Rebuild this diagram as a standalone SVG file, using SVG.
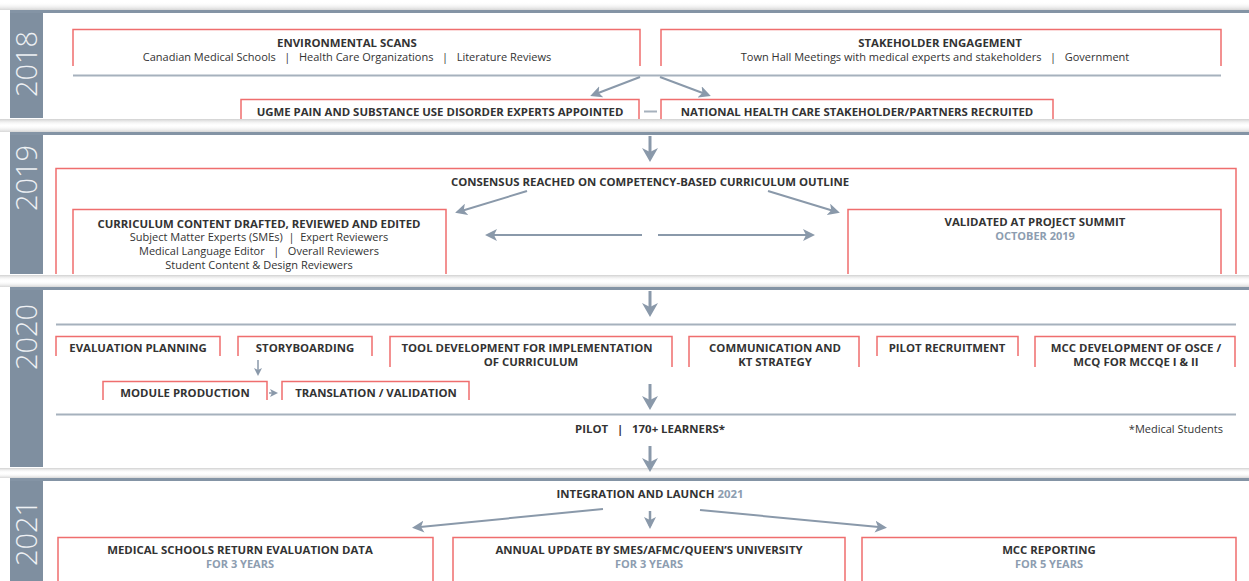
<svg xmlns="http://www.w3.org/2000/svg" width="1249" height="581" viewBox="0 0 1249 581">
<style>
.t{font-family:"Open Sans","Liberation Sans",sans-serif;fill:#333;font-size:11px;text-anchor:middle}
.b{font-weight:700;font-size:11.4px}
.s{fill:#8d9db0;font-weight:700}
.br{fill:none;stroke:#ef6e6e;stroke-width:1.5}
.gl{stroke:#a6b1bd;stroke-width:2}
.band{stroke:#8494a5;stroke-width:3}
.bar{fill:#7f8fa0}
.yr{font-family:"Open Sans","Liberation Sans",sans-serif;font-weight:300;font-size:29px;fill:#eef1f4;text-anchor:middle}
.ar{stroke:#8a99aa;fill:none}
</style>
<defs>
<marker id="ahL" markerUnits="userSpaceOnUse" viewBox="0 0 14 16" refX="10" refY="8" markerWidth="14" markerHeight="16" orient="auto"><path d="M0,0 L14,8 L0,16 L4,8 z" fill="#8a99aa"/></marker>
<marker id="ahM" markerUnits="userSpaceOnUse" viewBox="0 0 12 12" refX="9" refY="6" markerWidth="12" markerHeight="12" orient="auto"><path d="M0,0 L12,6 L0,12 L3,6 z" fill="#8a99aa"/></marker>
<marker id="ahS" markerUnits="userSpaceOnUse" viewBox="0 0 8 8" refX="6" refY="4" markerWidth="8" markerHeight="8" orient="auto"><path d="M0,0 L8,4 L0,8 L2,4 z" fill="#8a99aa"/></marker>
<linearGradient id="shD" x1="0" y1="0" x2="0" y2="1"><stop offset="0" stop-color="#d0d0d0"/><stop offset="1" stop-color="#ffffff" stop-opacity="0"/></linearGradient>
<linearGradient id="shU" x1="0" y1="0" x2="0" y2="1"><stop offset="0" stop-color="#ffffff" stop-opacity="0"/><stop offset="1" stop-color="#d6d6d6"/></linearGradient>
</defs>
<rect width="1249" height="581" fill="#ffffff"/>
<g id="shadows">
<rect x="0" y="2" width="1249" height="8" fill="url(#shU)"/>
<rect x="0" y="119" width="1249" height="7" fill="url(#shD)"/>
<rect x="0" y="125" width="1249" height="7" fill="url(#shU)"/>
<rect x="0" y="275" width="1249" height="6" fill="url(#shD)"/>
<rect x="0" y="281" width="1249" height="6" fill="url(#shU)"/>
<rect x="0" y="468" width="1249" height="5" fill="url(#shD)"/>
<rect x="0" y="473" width="1249" height="5" fill="url(#shU)"/>
</g>
<g id="years">
<g id="y2018"><rect class="bar" x="10" y="11" width="33" height="107"/><line class="band" x1="10" y1="11.5" x2="1249" y2="11.5"/><text class="yr" transform="translate(37,64) rotate(-90)">2018</text></g>
<g id="y2019"><rect class="bar" x="10" y="133" width="33" height="141"/><line class="band" x1="10" y1="133.5" x2="1249" y2="133.5"/><text class="yr" transform="translate(37,178) rotate(-90)">2019</text></g>
<g id="y2020"><rect class="bar" x="10" y="288" width="33" height="179"/><line class="band" x1="10" y1="288.5" x2="1249" y2="288.5"/><text class="yr" transform="translate(37,337) rotate(-90)">2020</text></g>
<g id="y2021"><rect class="bar" x="10" y="479" width="33" height="102"/><line class="band" x1="10" y1="479.5" x2="1249" y2="479.5"/><text class="yr" transform="translate(37,533) rotate(-90)">2021</text></g>
</g>
<g id="connectors">
<line class="gl" x1="73" y1="75.5" x2="1221" y2="75.5"/>
<line class="gl" x1="644" y1="111.5" x2="657" y2="111.5"/>
<line class="gl" x1="56" y1="324.5" x2="1236" y2="324.5"/>
<line class="gl" x1="56" y1="414.5" x2="1236" y2="414.5"/>
<line class="ar" stroke-width="2" x1="640" y1="77" x2="593" y2="95" marker-end="url(#ahM)"/>
<line class="ar" stroke-width="2" x1="660" y1="77" x2="708" y2="95" marker-end="url(#ahM)"/>
<line class="ar" stroke-width="3" x1="650" y1="136" x2="650" y2="158" marker-end="url(#ahL)"/>
<line class="ar" stroke-width="2" x1="527" y1="191" x2="458" y2="212" marker-end="url(#ahM)"/>
<line class="ar" stroke-width="2" x1="768" y1="191" x2="837" y2="212" marker-end="url(#ahM)"/>
<line class="ar" stroke-width="2" x1="642" y1="235" x2="488" y2="235" marker-end="url(#ahM)"/>
<line class="ar" stroke-width="2" x1="658" y1="235" x2="812" y2="235" marker-end="url(#ahM)"/>
<line class="ar" stroke-width="3" x1="650" y1="291" x2="650" y2="313" marker-end="url(#ahL)"/>
<line class="ar" stroke-width="1.5" x1="258" y1="360" x2="258" y2="374" marker-end="url(#ahS)"/>
<line class="ar" stroke-width="1.5" x1="269" y1="393" x2="276" y2="393" marker-end="url(#ahS)"/>
<line class="ar" stroke-width="3" x1="650" y1="384" x2="650" y2="406" marker-end="url(#ahL)"/>
<line class="ar" stroke-width="3" x1="650" y1="446" x2="650" y2="468" marker-end="url(#ahL)"/>
<line class="ar" stroke-width="2" x1="603" y1="509" x2="415" y2="527.5" marker-end="url(#ahM)"/>
<line class="ar" stroke-width="2.5" x1="650" y1="511" x2="650" y2="526" marker-end="url(#ahM)"/>
<line class="ar" stroke-width="2" x1="700" y1="510" x2="884" y2="527.5" marker-end="url(#ahM)"/>
</g>
<g id="env"><path class="br" d="M73,66 V29.5 H640 V66"/><text class="t b" x="347" y="47">ENVIRONMENTAL SCANS</text><text class="t" x="347" y="61" xml:space="preserve">Canadian Medical Schools   |   Health Care Organizations   |   Literature Reviews</text></g>
<g id="stake"><path class="br" d="M661,66 V29.5 H1221 V66"/><text class="t b" x="940" y="47">STAKEHOLDER ENGAGEMENT</text><text class="t" x="935" y="61" xml:space="preserve">Town Hall Meetings with medical experts and stakeholders   |   Government</text></g>
<g id="ugme"><path class="br" d="M241,119 V99.5 H639 V119"/><text class="t b" x="440" y="116">UGME PAIN AND SUBSTANCE USE DISORDER EXPERTS APPOINTED</text></g>
<g id="national"><path class="br" d="M661,119 V99.5 H1053 V119"/><text class="t b" x="857" y="116">NATIONAL HEALTH CARE STAKEHOLDER/PARTNERS RECRUITED</text></g>
<g id="consensus"><path class="br" d="M56,274 V168.5 H1236 V274"/><text class="t b" x="650" y="186">CONSENSUS REACHED ON COMPETENCY-BASED CURRICULUM OUTLINE</text></g>
<g id="curriculum"><path class="br" d="M73,274 V209.5 H446 V274"/><text class="t b" x="259" y="228">CURRICULUM CONTENT DRAFTED, REVIEWED AND EDITED</text><text class="t" x="259" y="241" xml:space="preserve">Subject Matter Experts (SMEs)  |  Expert Reviewers</text><text class="t" x="259" y="255" xml:space="preserve">Medical Language Editor   |   Overall Reviewers</text><text class="t" x="259" y="269">Student Content &amp; Design Reviewers</text></g>
<g id="validated"><path class="br" d="M848,274 V209.5 H1221 V274"/><text class="t b" x="1035" y="226">VALIDATED AT PROJECT SUMMIT</text><text class="t s" x="1035" y="240">OCTOBER 2019</text></g>
<g id="evalplan"><path class="br" d="M56,356 V336.5 H220 V356"/><text class="t b" x="138" y="352">EVALUATION PLANNING</text></g>
<g id="story"><path class="br" d="M238,356 V336.5 H372 V356"/><text class="t b" x="305" y="352">STORYBOARDING</text></g>
<g id="tool"><path class="br" d="M390,367 V336.5 H672 V367"/><text class="t b" x="527" y="352">TOOL DEVELOPMENT FOR IMPLEMENTATION</text><text class="t b" x="531" y="366">OF CURRICULUM</text></g>
<g id="comm"><path class="br" d="M689,367 V336.5 H859 V367"/><text class="t b" x="775" y="352">COMMUNICATION AND</text><text class="t b" x="775" y="366">KT STRATEGY</text></g>
<g id="pilotrec"><path class="br" d="M877,356 V336.5 H1018 V356"/><text class="t b" x="947" y="352">PILOT RECRUITMENT</text></g>
<g id="mccdev"><path class="br" d="M1035,367 V336.5 H1235 V367"/><text class="t b" x="1136" y="352">MCC DEVELOPMENT OF OSCE /</text><text class="t b" x="1136" y="366">MCQ FOR MCCQE I &amp; II</text></g>
<g id="module"><path class="br" d="M103,400 V381.5 H267 V400"/><text class="t b" x="185" y="397">MODULE PRODUCTION</text></g>
<g id="translation"><path class="br" d="M282,400 V381.5 H469 V400"/><text class="t b" x="376" y="397">TRANSLATION / VALIDATION</text></g>
<g id="pilot"><text class="t b" x="650" y="433" xml:space="preserve">PILOT   |   170+ LEARNERS*</text><text class="t" x="1223" y="433" style="text-anchor:end">*Medical Students</text></g>
<g id="integration"><text class="t b" x="650" y="498">INTEGRATION AND LAUNCH <tspan class="s">2021</tspan></text></g>
<g id="medschools"><path class="br" d="M58,581 V537.5 H433 V581"/><text class="t b" x="240" y="554">MEDICAL SCHOOLS RETURN EVALUATION DATA</text><text class="t s" x="240" y="568">FOR 3 YEARS</text></g>
<g id="annual"><path class="br" d="M453,581 V537.5 H845 V581"/><text class="t b" x="649" y="554">ANNUAL UPDATE BY SMES/AFMC/QUEEN’S UNIVERSITY</text><text class="t s" x="649" y="568">FOR 3 YEARS</text></g>
<g id="mccrep"><path class="br" d="M862,581 V537.5 H1236 V581"/><text class="t b" x="1049" y="554">MCC REPORTING</text><text class="t s" x="1049" y="568">FOR 5 YEARS</text></g>
</svg>
